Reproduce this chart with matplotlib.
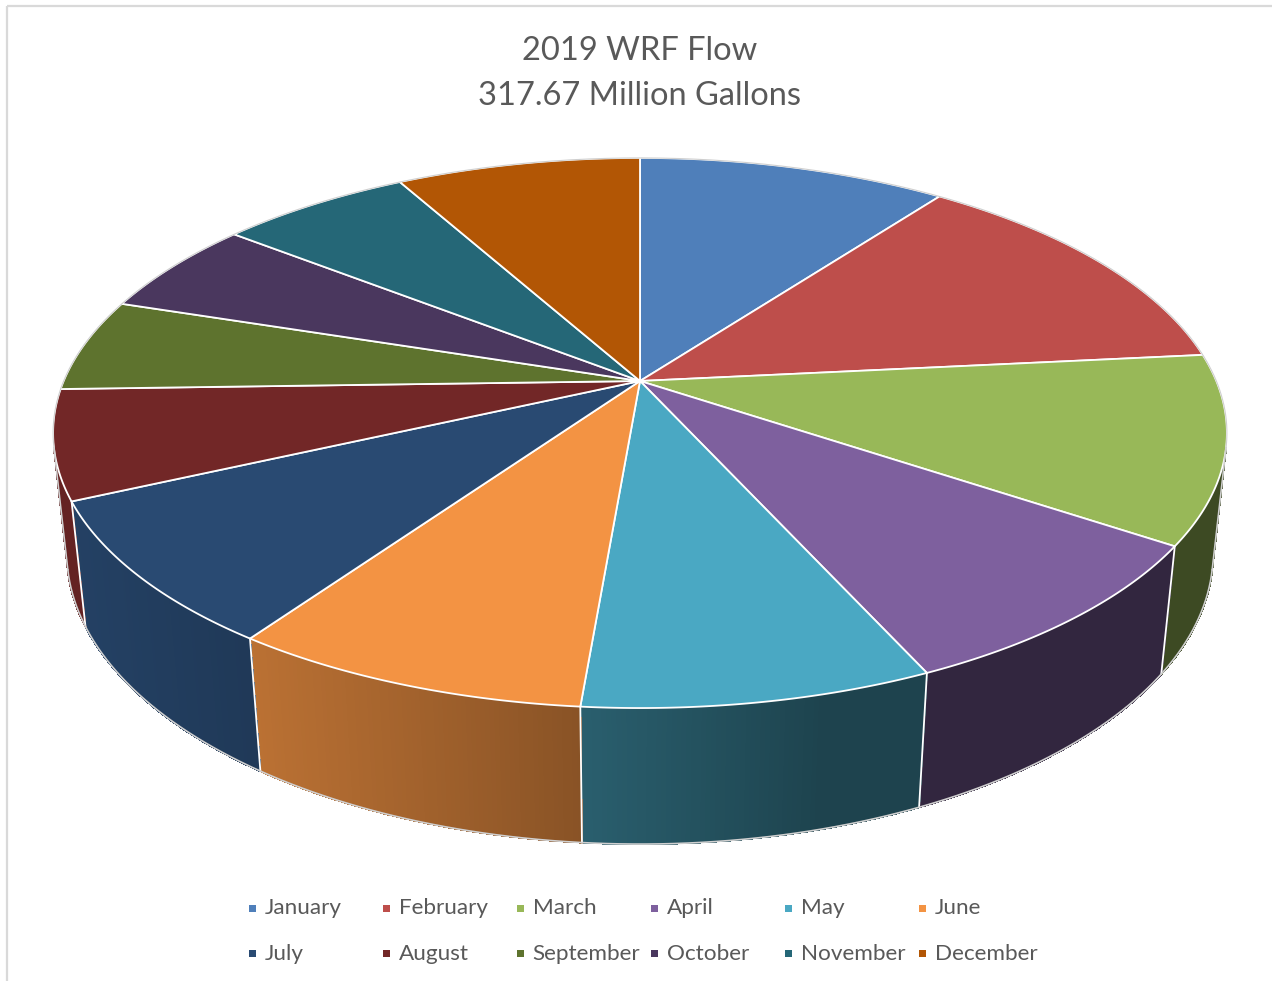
import numpy as np
import matplotlib.pyplot as plt
from matplotlib.collections import PolyCollection
from matplotlib.colors import to_rgb
from matplotlib.patches import Polygon, Rectangle

plt.rcParams["font.family"] = ["Lato", "DejaVu Sans"]

# monthly WRF flow, million gallons
months = ["January", "February", "March", "April", "May", "June",
          "July", "August", "September", "October", "November", "December"]
flow_mg = [32.43, 41.91, 34.98, 28.04, 25.73, 26.52,
           26.83, 20.29, 17.35, 17.83, 20.13, 25.63]
colors = ["#4F7FBA", "#BE4E4B", "#98B858", "#7E609E", "#4AA8C3", "#F39343",
          "#294A72", "#722727", "#5E732E", "#4A375E", "#256777", "#B25605"]

TEXT = "#595959"

# simple perspective camera looking down on a unit-radius disc
TILT = np.radians(27.4)
DIST = 4.697
FOCAL = 2707.0
DEPTH = 0.2366
CX, CY = 640, 381
S, C = np.sin(TILT), np.cos(TILT)


def project(x, y, z):
    w = DIST + y * C - z * S
    return CX + FOCAL * x / w, CY - FOCAL * (y * S + z * C) / w


def rim(theta, z):
    # theta runs clockwise from the far side of the disc
    return project(np.sin(theta), np.cos(theta), z)


def shade(theta):
    # light from the left front
    return 0.40 + 0.48 * max(0.0, np.cos(theta - np.radians(255)))


total = sum(flow_mg)
edges = np.concatenate([[0], np.cumsum(flow_mg) / total]) * 2 * np.pi

fig = plt.figure(figsize=(12.72, 9.81), dpi=100)
ax = fig.add_axes([0, 0, 1, 1])
ax.set_xlim(0, 1272)
ax.set_ylim(981, 0)
ax.axis("off")

# chart area frame
ax.add_patch(Rectangle((7, 6), 1400, 1100, fill=False, ec="#D9D9D9", lw=1.6))

# side wall, only the part facing the camera
lo = np.arccos(-1 / (DIST * C))
hi = 2 * np.pi - lo
quads, quad_colors = [], []
for i in range(len(flow_mg)):
    a0, a1 = max(edges[i], lo), min(edges[i + 1], hi)
    if a1 <= a0:
        continue
    n = max(2, int(np.degrees(a1 - a0) / 0.4))
    t = np.linspace(a0, a1, n + 1)
    base = np.array(to_rgb(colors[i]))
    for t0, t1 in zip(t[:-1], t[1:]):
        pts = [rim(t0, 0), rim(t1, 0), rim(t1, -DEPTH), rim(t0, -DEPTH)]
        quads.append(pts)
        quad_colors.append(base * shade(0.5 * (t0 + t1)))
ax.add_collection(PolyCollection(quads, facecolors=quad_colors,
                                 edgecolors=quad_colors, linewidths=0.8,
                                 antialiased=False))

for a in edges[1:-1]:
    if lo < a < hi:
        x0, y0 = rim(a, 0)
        x1, y1 = rim(a, -DEPTH)
        ax.plot([x0, x1], [y0, y1], color="white", lw=1.3)

t = np.linspace(lo, hi, 400)
bx, by = rim(t, -DEPTH)
ax.plot(bx, by, color="#D0D0D0", lw=1.2)
for a in (lo, hi):
    x0, y0 = rim(a, 0)
    x1, y1 = rim(a, -DEPTH)
    ax.plot([x0, x1], [y0, y1], color="#D0D0D0", lw=1.2)

# top face slices
center = project(0, 0, 0)
for i in range(len(flow_mg)):
    n = max(4, int(np.degrees(edges[i + 1] - edges[i]) / 0.25))
    t = np.linspace(edges[i], edges[i + 1], n + 1)
    px, py = rim(t, 0)
    pts = np.vstack([[center], np.column_stack([px, py])])
    ax.add_patch(Polygon(pts, closed=True, fc=colors[i], ec="white",
                         lw=1.3, joinstyle="round"))

t = np.linspace(hi, lo + 2 * np.pi, 400)
rx, ry = rim(t, 0)
ax.plot(rx, ry, color="#CFCFCF", lw=0.8)

# title
ax.text(640, 51, "2019 WRF Flow", ha="center", va="center",
        fontsize=23.5, color=TEXT)
ax.text(640, 96, f"{total:.2f} Million Gallons", ha="center", va="center",
        fontsize=23.5, color=TEXT)

# legend, two rows of six
for i, (name, col) in enumerate(zip(months, colors)):
    x = 252.7 + (i % 6) * 134
    y = 908 + (i // 6) * 45
    ax.add_patch(Rectangle((x - 3.5, y - 3.5), 7, 7, fc=col, ec="none"))
    ax.text(x + 12, y + 0.5, name, ha="left", va="center", fontsize=16.2,
            color=TEXT)

fig.savefig("out.png", dpi=100)
